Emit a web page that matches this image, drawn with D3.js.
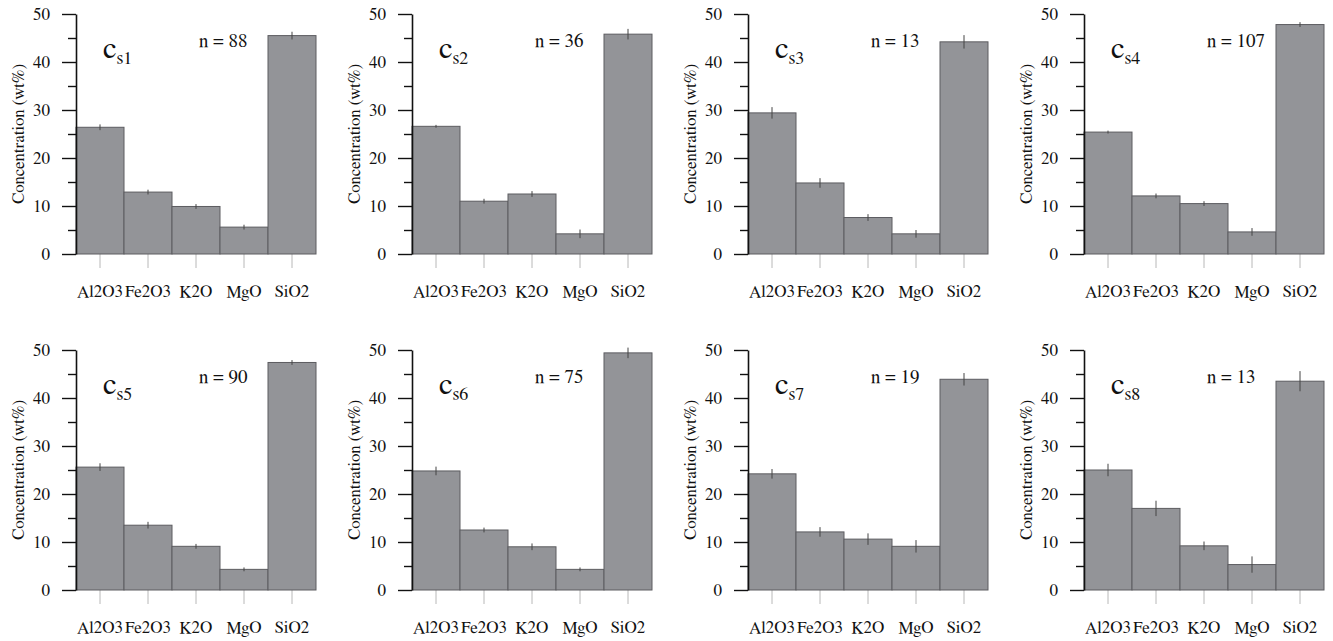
<!DOCTYPE html>
<html>
<head>
<meta charset="utf-8">
<script src="https://cdn.jsdelivr.net/npm/d3@7"></script>
<style>
  html, body { margin: 0; padding: 0; background: #fff; }
  svg { display: block; }
</style>
</head>
<body>
<svg id="chart" width="1333" height="641"></svg>
<script>
// ---- data ----
const categories = ["Al2O3", "Fe2O3", "K2O", "MgO", "SiO2"];
const panelIds = ["s1", "s2", "s3", "s4", "s5", "s6", "s7", "s8"];
const sampleCounts = [88, 36, 13, 107, 90, 75, 19, 13];
const means = [
  [26.4, 12.9, 9.9, 5.6, 45.5],
  [26.6, 11.0, 12.5, 4.2, 45.8],
  [29.4, 14.8, 7.6, 4.2, 44.2],
  [25.4, 12.1, 10.5, 4.6, 47.8],
  [25.6, 13.5, 9.1, 4.3, 47.4],
  [24.8, 12.5, 9.0, 4.3, 49.4],
  [24.2, 12.1, 10.6, 9.1, 43.9],
  [25.0, 17.0, 9.2, 5.3, 43.5]
];
const errors = [
  [0.6, 0.5, 0.5, 0.5, 0.8],
  [0.3, 0.5, 0.6, 0.9, 1.1],
  [1.2, 1.0, 0.7, 0.8, 1.4],
  [0.3, 0.5, 0.5, 0.8, 0.5],
  [0.8, 0.7, 0.5, 0.4, 0.5],
  [0.9, 0.5, 0.7, 0.4, 1.1],
  [1.0, 1.0, 1.2, 1.3, 1.3],
  [1.3, 1.6, 0.9, 1.7, 2.1]
];
const majorTicks = [0, 10, 20, 30, 40, 50];
const minorTicks = [5, 15, 25, 35, 45];
const yLabel = "Concentration (wt%)";

const FONT = "FreeSerif";
function serif(sel, size) {
  sel.style("font-family", FONT).attr("font-size", size);
}

// ---- layout ----
const svg = d3.select("#chart");
const plotW = 240, plotH = 240;
const colX = [76, 412, 748, 1084];
const rowY = [14, 350];

const x = d3.scaleBand().domain(categories).range([0, plotW]).padding(0);
const y = d3.scaleLinear().domain([0, 50]).range([plotH, 0]);

panelIds.forEach((id, i) => {
  const col = i % 4, row = Math.floor(i / 4);
  const g = svg.append("g").attr("transform", `translate(${colX[col]},${rowY[row]})`);
  const rows = categories.map((c, j) => ({ cat: c, v: means[i][j], e: errors[i][j] }));

  // light grey ticks under the bars
  g.selectAll("line.xt").data(rows).enter().append("line")
    .attr("x1", d => x(d.cat) + x.bandwidth() / 2)
    .attr("x2", d => x(d.cat) + x.bandwidth() / 2)
    .attr("y1", y(0)).attr("y2", y(0) + 14)
    .attr("stroke", "#b8b8b8").attr("stroke-width", 1);

  // bars
  g.selectAll("rect.bar").data(rows).enter().append("rect")
    .attr("x", d => x(d.cat))
    .attr("y", d => y(d.v))
    .attr("width", x.bandwidth())
    .attr("height", d => y(0) - y(d.v))
    .attr("fill", "#939498")
    .attr("stroke", "#5c5c60")
    .attr("stroke-width", 1);

  // error bars
  g.selectAll("line.err").data(rows).enter().append("line")
    .attr("x1", d => x(d.cat) + x.bandwidth() / 2)
    .attr("x2", d => x(d.cat) + x.bandwidth() / 2)
    .attr("y1", d => y(d.v + d.e))
    .attr("y2", d => y(d.v - d.e))
    .attr("stroke", "#444").attr("stroke-width", 1);

  // x labels
  const xl = g.selectAll("text.xl").data(rows).enter().append("text")
    .attr("x", d => x(d.cat) + x.bandwidth() / 2)
    .attr("y", y(0) + 43)
    .attr("text-anchor", "middle")
    .attr("fill", "#111")
    .text(d => d.cat);
  serif(xl, 17);

  // y axis: major + minor ticks
  const major = g.append("g").call(d3.axisLeft(y).tickValues(majorTicks).tickSize(14).tickSizeOuter(0).tickPadding(12).tickFormat(d3.format("d")));
  major.select(".domain").attr("stroke", "#111").attr("stroke-width", 1.6);
  major.selectAll(".tick line").attr("stroke", "#111").attr("stroke-width", 1.4);
  const tt = major.selectAll(".tick text").attr("fill", "#111");
  serif(tt, 17);
  const minor = g.append("g").call(d3.axisLeft(y).tickValues(minorTicks).tickSize(8).tickSizeOuter(0).tickFormat(""));
  minor.select(".domain").remove();
  minor.selectAll(".tick line").attr("stroke", "#111").attr("stroke-width", 1.4);

  // y label
  const yl = g.append("text")
    .attr("transform", `translate(-58,${plotH / 2}) rotate(-90)`)
    .attr("text-anchor", "middle")
    .attr("dy", "0.35em")
    .attr("fill", "#111")
    .text(yLabel);
  serif(yl, 17);

  // panel label c_sN
  const lab = g.append("text").attr("x", 27).attr("y", 44).attr("fill", "#111");
  serif(lab, 17);
  const t1 = lab.append("tspan").text("c");
  serif(t1, 31);
  const t2 = lab.append("tspan").attr("dy", 6).text(id);
  serif(t2, 18);

  // n = ...
  const nl = g.append("text").attr("x", 123).attr("y", 33)
    .attr("fill", "#111")
    .text("n = " + sampleCounts[i]);
  serif(nl, 19);
});
</script>
</body>
</html>
